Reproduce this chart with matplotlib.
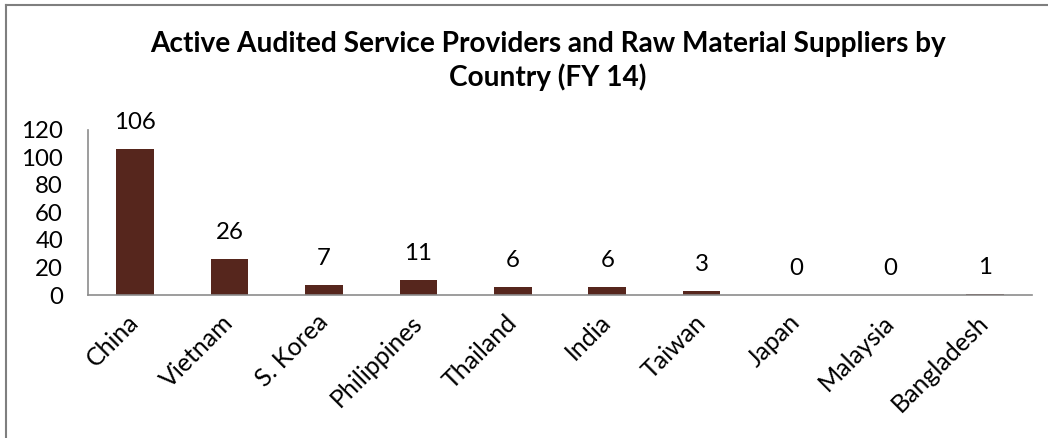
import matplotlib
matplotlib.use("Agg")
import matplotlib.pyplot as plt
from matplotlib.lines import Line2D

countries = ["China", "Vietnam", "S. Korea", "Philippines", "Thailand",
             "India", "Taiwan", "Japan", "Malaysia", "Bangladesh"]
counts = [106, 26, 7, 11, 6, 6, 3, 0, 0, 1]
y_ticks = [0, 20, 40, 60, 80, 100, 120]

title = "Active Audited Service Providers and Raw Material Suppliers by\nCountry (FY 14)"

bar_color = "#56261D"
axis_gray = "#8C8C8C"
font = "Lato"

fig = plt.figure(figsize=(10.48, 4.38), dpi=100)
ax = fig.add_axes([88 / 1048, 1 - 295 / 438, (1032 - 88) / 1048, (295 - 130) / 438])

x = list(range(len(countries)))
ax.bar(x, counts, width=0.4, color=bar_color)

for xi, v in zip(x, counts):
    ax.annotate(str(v), (xi, v), xytext=(0, 19), textcoords="offset points",
                ha="center", va="center", fontsize=17.3, family=font)

ax.set_xlim(-0.5, len(countries) - 0.5)
ax.set_ylim(0, 120)
ax.set_yticks(y_ticks)
ax.set_yticklabels([str(t) for t in y_ticks], fontsize=17.3, family=font)
ax.set_xticks(x)
ax.set_xticklabels(countries, rotation=45, ha="right", va="center",
                   rotation_mode="anchor", fontsize=18, family=font)
ax.tick_params(axis="y", length=0, pad=18)
ax.tick_params(axis="x", length=0, pad=17)

for side in ["top", "right"]:
    ax.spines[side].set_visible(False)
for side in ["left", "bottom"]:
    ax.spines[side].set_color(axis_gray)
    ax.spines[side].set_linewidth(1.2)

fig.text(548 / 1048, 1 - 61 / 438, title, ha="center", va="center",
         fontsize=20.2, fontweight="bold", family=font, linespacing=1.25)

# chart border (only left and top edges visible in the crop)
fig.add_artist(Line2D([6 / 1048, 6 / 1048], [0, 1 - 5 / 438], transform=fig.transFigure,
                      color="#7F7F7F", linewidth=1.5))
fig.add_artist(Line2D([6 / 1048, 1], [1 - 5 / 438, 1 - 5 / 438], transform=fig.transFigure,
                      color="#7F7F7F", linewidth=1.5))

fig.savefig("out.png", dpi=100, facecolor="white")
